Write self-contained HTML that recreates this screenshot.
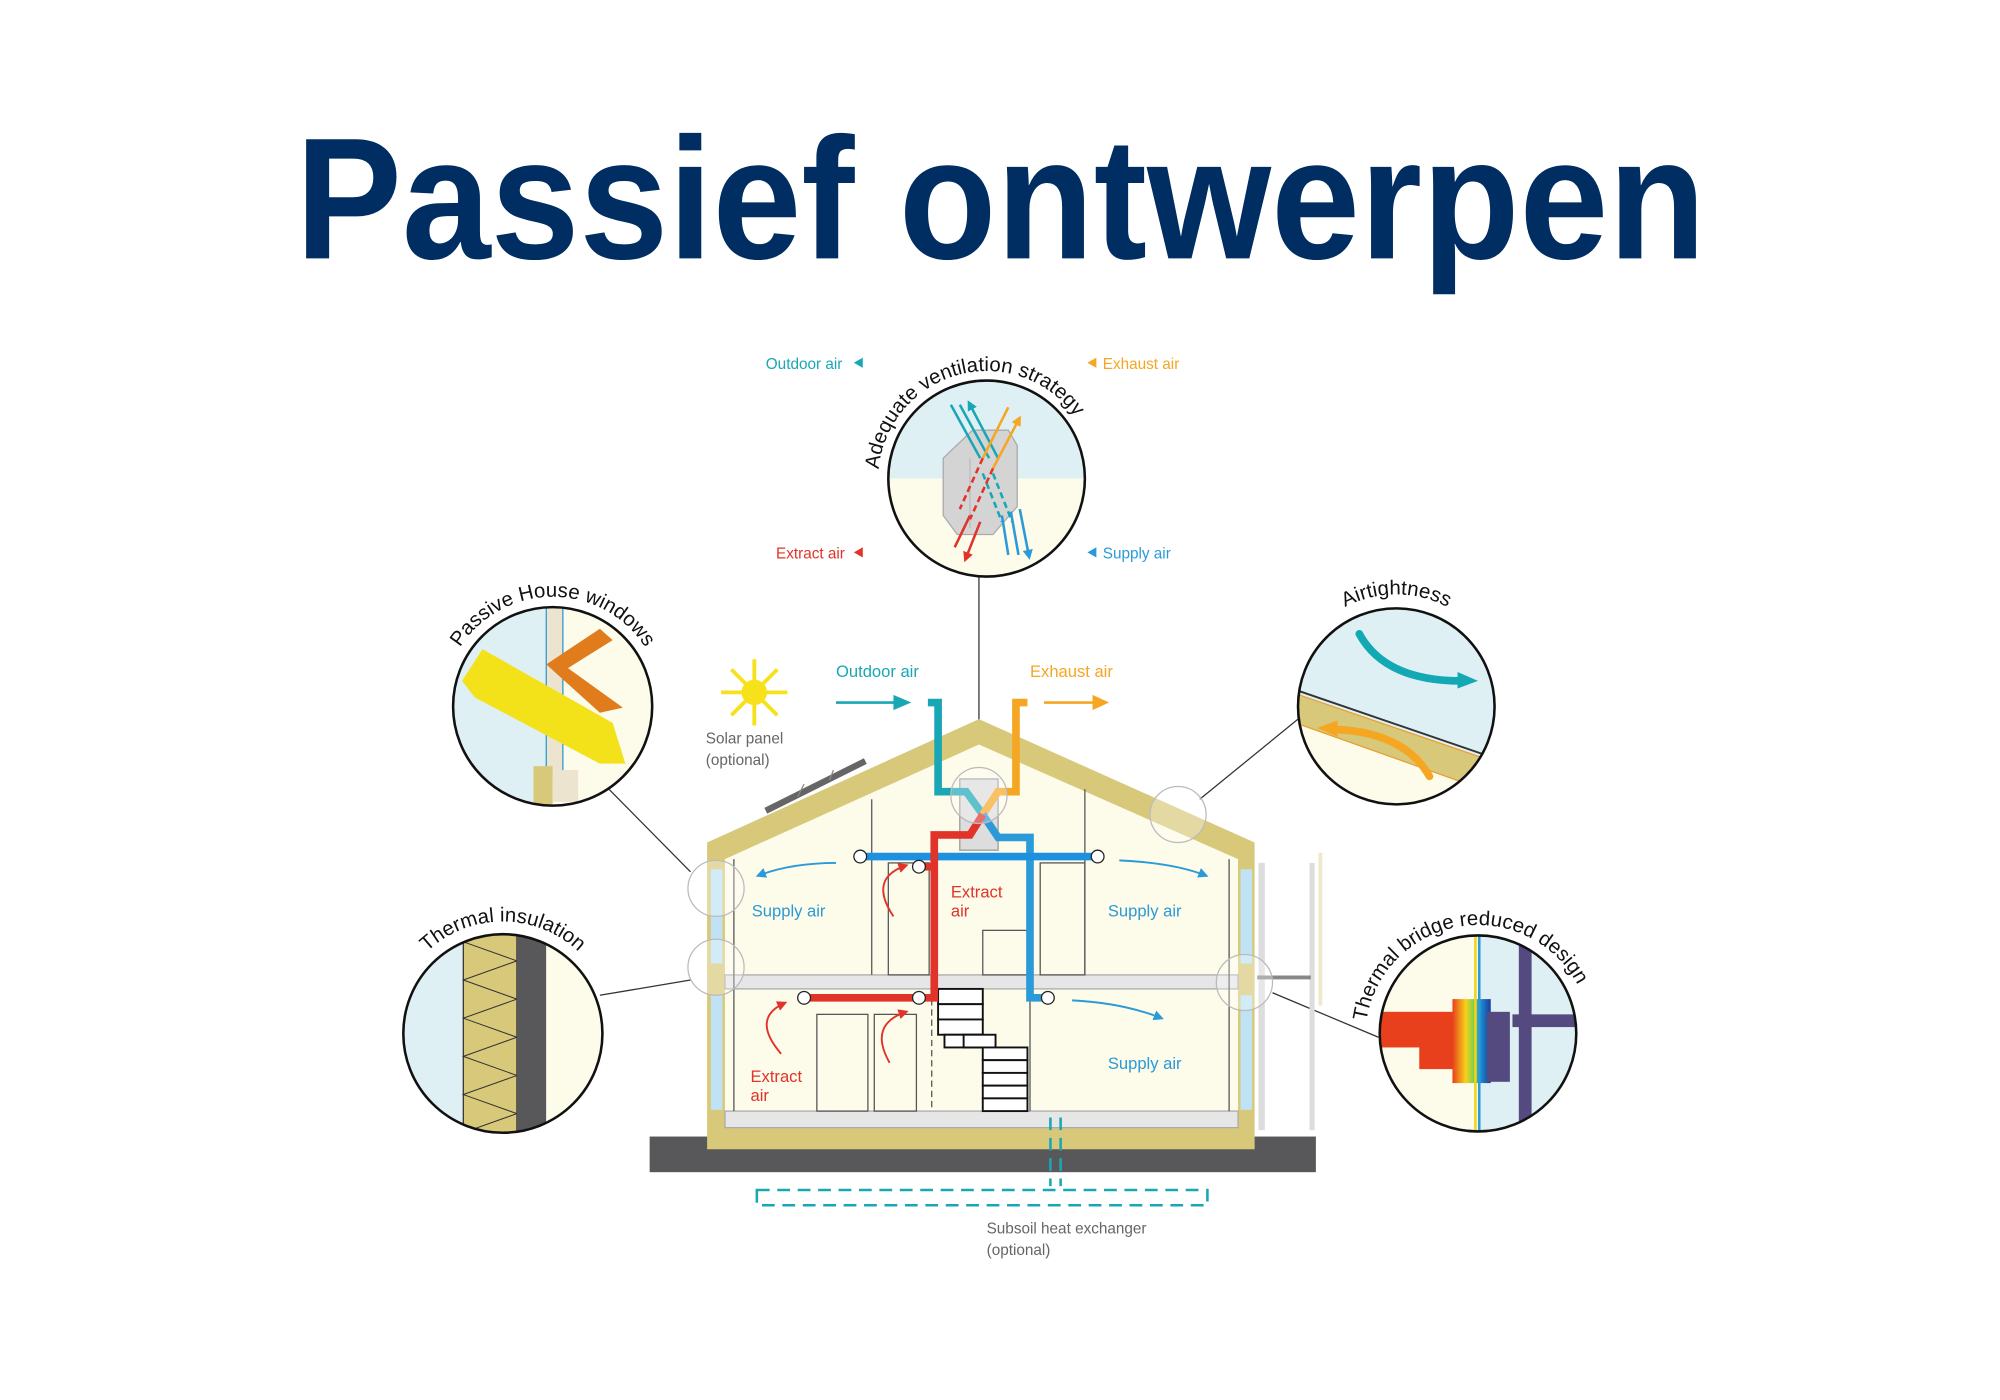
<!DOCTYPE html>
<html><head><meta charset="utf-8"><style>
html,body{margin:0;padding:0;background:#fff;}
svg{display:block;}
text{font-family:"Liberation Sans",sans-serif;}
</style></head><body>
<svg width="2000" height="1400" viewBox="0 0 1567 1100" preserveAspectRatio="none" xmlns="http://www.w3.org/2000/svg">
<defs>
<clipPath id="cv"><circle cx="773" cy="376" r="77"/></clipPath>
<clipPath id="cw"><circle cx="433" cy="555" r="78"/></clipPath>
<clipPath id="ci"><circle cx="394" cy="812" r="78"/></clipPath>
<clipPath id="ca"><circle cx="1094" cy="555" r="77"/></clipPath>
<clipPath id="ct"><circle cx="1158" cy="812" r="77"/></clipPath>
<linearGradient id="tg" x1="0" x2="1" y1="0" y2="0">
<stop offset="0" stop-color="#e8401c"/><stop offset="0.35" stop-color="#f8d21a"/><stop offset="0.55" stop-color="#7fd04a"/><stop offset="0.7" stop-color="#1c9ad8"/><stop offset="1" stop-color="#1a3b9a"/></linearGradient>
<path id="pv" d="M693,405 A85,85 0 1 1 856.7,361.2" fill="none"/>
<path id="pw" d="M348.3,540 A86,86 0 0 1 517.7,540" fill="none"/>
<path id="pi" d="M309,797 A86,86 0 0 1 479,797" fill="none"/>
<path id="pa" d="M1009,540 A86,86 0 0 1 1179,540" fill="none"/>
<path id="pt" d="M1071,830 A88,88 0 0 1 1245,800" fill="none"/>
<marker id="ab" markerWidth="8" markerHeight="8" refX="6" refY="4" orient="auto" markerUnits="userSpaceOnUse"><path d="M0,0 L8,4 L0,8z" fill="#2a9ad8"/></marker>
<marker id="ar" markerWidth="8" markerHeight="8" refX="6" refY="4" orient="auto" markerUnits="userSpaceOnUse"><path d="M0,0 L8,4 L0,8z" fill="#e0332a"/></marker>
<marker id="mc" markerWidth="8" markerHeight="8" refX="4" refY="4" orient="auto" markerUnits="userSpaceOnUse"><path d="M0,0 L8,4 L0,8z" fill="#1aa7b5"/></marker>
<marker id="mo" markerWidth="8" markerHeight="8" refX="4" refY="4" orient="auto" markerUnits="userSpaceOnUse"><path d="M0,0 L8,4 L0,8z" fill="#f5a623"/></marker>
<marker id="mb" markerWidth="8" markerHeight="8" refX="4" refY="4" orient="auto" markerUnits="userSpaceOnUse"><path d="M0,0 L8,4 L0,8z" fill="#2a9ad8"/></marker>
<marker id="mr" markerWidth="8" markerHeight="8" refX="4" refY="4" orient="auto" markerUnits="userSpaceOnUse"><path d="M0,0 L8,4 L0,8z" fill="#e0332a"/></marker>
</defs>

<text x="784" y="203" font-size="136" font-weight="bold" fill="#002d62" text-anchor="middle" textLength="1105" lengthAdjust="spacingAndGlyphs">Passief ontwerpen</text>

<g stroke="#333" stroke-width="1">
<line x1="767" y1="453" x2="767" y2="567"/>
<line x1="477" y1="620" x2="541" y2="685"/>
<line x1="470" y1="782" x2="541" y2="770"/>
<line x1="1017" y1="565" x2="940" y2="628"/>
<line x1="1080" y1="815" x2="997" y2="780"/>
</g>

<rect x="509" y="893" width="522" height="28" fill="#58585a"/>
<rect x="986" y="678" width="5" height="210" fill="#ddd"/>
<rect x="1026" y="678" width="4" height="210" fill="#ddd"/>
<rect x="1033" y="670" width="3" height="120" fill="#eee9c8"/>
<line x1="985" y1="768" x2="1027" y2="768" stroke="#888" stroke-width="3"/>
<polygon points="568,675 767,585 970,675 970,886 568,886" fill="#fdfbe9"/>
<polygon points="554,662 767,565 983,662 983,903 554,903 554,662 568,675 568,886 970,886 970,675 767,585 568,675" fill="#d8c97a" fill-rule="evenodd"/>
<rect x="557" y="683" width="9" height="74" fill="#bfe3f5"/>
<rect x="557" y="782" width="9" height="90" fill="#bfe3f5"/>
<rect x="972" y="683" width="9" height="74" fill="#bfe3f5"/>
<rect x="972" y="782" width="9" height="90" fill="#bfe3f5"/>
<rect x="568" y="766" width="402" height="11" fill="#e6e6e6" stroke="#aaa" stroke-width="1"/>
<rect x="568" y="873" width="402" height="13" fill="#e6e6e6" stroke="#aaa" stroke-width="1"/>
<g stroke="#555" stroke-width="1" fill="none">
<line x1="683" y1="628" x2="683" y2="766"/>
<line x1="850" y1="620" x2="850" y2="766"/>
<line x1="575" y1="675" x2="575" y2="873"/>
<line x1="963" y1="675" x2="963" y2="873"/>
<rect x="696" y="678" width="32" height="88"/>
<rect x="815" y="678" width="35" height="88"/>
<rect x="770" y="731" width="35" height="35"/>
<rect x="640" y="797" width="40" height="76"/>
<rect x="685" y="797" width="33" height="76"/>
<line x1="807" y1="777" x2="807" y2="873"/>
<line x1="730" y1="777" x2="730" y2="873" stroke-dasharray="5,3"/>
</g>
<g stroke="#111" stroke-width="1.5" fill="#fff">
<rect x="735" y="777" width="35" height="12"/><rect x="735" y="789" width="35" height="12"/><rect x="735" y="801" width="35" height="12"/><rect x="740" y="813" width="30" height="10"/><rect x="755" y="813" width="25" height="10"/>
<rect x="770" y="823" width="35" height="10"/><rect x="770" y="833" width="35" height="10"/><rect x="770" y="843" width="35" height="10"/><rect x="770" y="853" width="35" height="10"/><rect x="770" y="863" width="35" height="10"/>
</g>
<line x1="600" y1="637" x2="678" y2="598" stroke="#666" stroke-width="5"/>
<path d="M625,626 l5,-10 M650,613 l3,-8" stroke="#888" stroke-width="1"/>
<g stroke="#f7e11b" stroke-width="3"><line x1="591" y1="518" x2="591" y2="570"/><line x1="565" y1="544" x2="617" y2="544"/><line x1="573" y1="526" x2="609" y2="562"/><line x1="609" y1="526" x2="573" y2="562"/></g>
<circle cx="591" cy="544" r="10" fill="#f7e11b"/>
<text x="553" y="584" font-size="12" fill="#666">Solar panel</text>
<text x="553" y="601" font-size="12" fill="#666">(optional)</text>

<text x="655" y="532" font-size="13" fill="#1aa7b5">Outdoor air</text>
<line x1="655" y1="552" x2="702" y2="552" stroke="#1aa7b5" stroke-width="2"/><polygon points="700,546 714,552 700,558" fill="#1aa7b5"/>
<text x="807" y="532" font-size="13" fill="#f5a623">Exhaust air</text>
<line x1="818" y1="552" x2="858" y2="552" stroke="#f5a623" stroke-width="2"/><polygon points="856,546 869,552 856,558" fill="#f5a623"/>

<rect x="752" y="612" width="30" height="56" fill="#ddd" stroke="#999"/>
<g fill="none" stroke-width="6" stroke-linejoin="miter">
<polyline points="727,552 735,552 735,622 757,622 770,640" stroke="#1aa7b5"/>
<polyline points="805,552 796,552 796,622 782,622 770,640" stroke="#f5a623"/>
<polyline points="770,640 782,658 807,658 807,784 818,784" stroke="#2a9ad8"/>
<line x1="674" y1="673" x2="860" y2="673" stroke="#1e90e0"/>
<polyline points="770,640 760,656 732,656 732,784 630,784" stroke="#e0332a"/>
<line x1="720" y1="681" x2="732" y2="681" stroke="#e0332a"/>
</g>
<g fill="#fff" stroke="#222" stroke-width="1">
<circle cx="674" cy="673" r="5"/><circle cx="860" cy="673" r="5"/><circle cx="720" cy="681" r="5"/><circle cx="630" cy="784" r="5"/><circle cx="720" cy="784" r="5"/><circle cx="821" cy="784" r="5"/>
</g>
<g fill="none" stroke-width="1.5">
<path d="M655,678 Q620,678 594,688" stroke="#2a9ad8" marker-end="url(#ab)"/>
<path d="M877,676 Q920,678 945,688" stroke="#2a9ad8" marker-end="url(#ab)"/>
<path d="M840,786 Q880,788 910,800" stroke="#2a9ad8" marker-end="url(#ab)"/>
<path d="M700,720 Q680,690 710,680" stroke="#e0332a" marker-end="url(#ar)"/>
<path d="M612,828 Q588,800 615,788" stroke="#e0332a" marker-end="url(#ar)"/>
<path d="M697,835 Q680,805 710,795" stroke="#e0332a" marker-end="url(#ar)"/>
</g>
<text x="589" y="720" font-size="13" fill="#2a9ad8">Supply air</text>
<text x="868" y="720" font-size="13" fill="#2a9ad8">Supply air</text>
<text x="868" y="840" font-size="13" fill="#2a9ad8">Supply air</text>
<text x="745" y="705" font-size="13" fill="#e0332a">Extract</text>
<text x="745" y="720" font-size="13" fill="#e0332a">air</text>
<text x="588" y="850" font-size="13" fill="#e0332a">Extract</text>
<text x="588" y="865" font-size="13" fill="#e0332a">air</text>

<rect x="593" y="935" width="353" height="12" fill="none" stroke="#1aa7b5" stroke-width="2" stroke-dasharray="10,6"/>
<g stroke="#1aa7b5" stroke-width="2" stroke-dasharray="10,6"><line x1="823" y1="878" x2="823" y2="932"/><line x1="831" y1="878" x2="831" y2="932"/></g>
<text x="773" y="969" font-size="12" fill="#666">Subsoil heat exchanger</text>
<text x="773" y="986" font-size="12" fill="#666">(optional)</text>

<g fill="rgba(255,255,255,0.3)" stroke="#bbb" stroke-width="1">
<circle cx="561" cy="698" r="22"/><circle cx="561" cy="760" r="22"/><circle cx="923" cy="640" r="22"/><circle cx="975" cy="772" r="22"/><circle cx="767" cy="625" r="22"/>
</g>

<g clip-path="url(#cv)">
<rect x="690" y="295" width="170" height="81" fill="#dff0f5"/>
<rect x="690" y="376" width="170" height="90" fill="#fdfbe9"/>
<polygon points="739,360 762,338 790,338 797,350 797,398 778,420 750,420 739,405" fill="#d4d4d4" stroke="#aaa"/>
<line x1="760" y1="360" x2="760" y2="415" stroke="#bbb"/>
<g stroke-width="2" fill="none">
<path d="M768,360 L745,318 M775,360 L752,318 M782,360 L760,318" stroke="#1aa7b5" marker-end="url(#mc)"/>
<path d="M770,372 L785,410 M778,372 L793,410" stroke="#1aa7b5" stroke-dasharray="5,3"/>
<path d="M770,360 L790,320 M778,368 L798,330" stroke="#f5a623" marker-end="url(#mo)"/>
<path d="M770,360 L752,400 M778,368 L760,408" stroke="#e0332a" stroke-dasharray="5,3"/>
<path d="M760,405 L748,430 M768,410 L757,438" stroke="#e0332a" marker-end="url(#mr)"/>
<path d="M785,405 L790,436 M792,402 L798,436 M799,400 L806,436" stroke="#2a9ad8" marker-end="url(#mb)"/>
</g>
</g>
<circle cx="773" cy="376" r="77" fill="none" stroke="#111" stroke-width="2"/>
<text font-size="16" fill="#111"><textPath href="#pv" startOffset="50%" text-anchor="middle">Adequate ventilation strategy</textPath></text>
<text x="600" y="290" font-size="12" fill="#1aa7b5">Outdoor air</text><polygon points="669,285 676,281 676,289" fill="#1aa7b5"/>
<polygon points="852,285 859,281 859,289" fill="#f5a623"/><text x="864" y="290" font-size="12" fill="#f5a623">Exhaust air</text>
<text x="608" y="439" font-size="12" fill="#e0332a">Extract air</text><polygon points="669,434 676,430 676,438" fill="#e0332a"/>
<polygon points="852,434 859,430 859,438" fill="#2a9ad8"/><text x="864" y="439" font-size="12" fill="#2a9ad8">Supply air</text>

<g clip-path="url(#cw)">
<rect x="350" y="475" width="83" height="165" fill="#dff0f5"/>
<rect x="433" y="475" width="90" height="165" fill="#fdfbe9"/>
<rect x="428" y="475" width="13" height="135" fill="#ede4cf" stroke="#2a9ad8" stroke-width="1"/>
<polygon points="362,535 378,510 480,568 490,600 470,600 372,548" fill="#f3e21a"/>
<polygon points="428,522 470,494 480,503 445,525 488,556 470,560" fill="#e07c1c"/>
<rect x="418" y="602" width="15" height="30" fill="#d8c97a"/>
<rect x="433" y="605" width="20" height="25" fill="#ede4cf"/>
</g>
<circle cx="433" cy="555" r="78" fill="none" stroke="#111" stroke-width="2"/>
<text font-size="16" fill="#111"><textPath href="#pw" startOffset="50%" text-anchor="middle">Passive House windows</textPath></text>

<g clip-path="url(#ci)">
<rect x="314" y="732" width="49" height="162" fill="#dff0f5"/>
<rect x="363" y="732" width="42" height="162" fill="#d8c97a" stroke="#333"/>
<polyline points="363,740 405,755 363,770 405,785 363,800 405,815 363,830 405,845 363,860 405,875 363,890" fill="none" stroke="#333" stroke-width="0.8"/>
<rect x="405" y="732" width="23" height="162" fill="#58585a"/>
<rect x="428" y="732" width="48" height="162" fill="#fdfbe9"/>
</g>
<circle cx="394" cy="812" r="78" fill="none" stroke="#111" stroke-width="2"/>
<text font-size="16" fill="#111"><textPath href="#pi" startOffset="50%" text-anchor="middle">Thermal insulation</textPath></text>

<g clip-path="url(#ca)">
<rect x="1015" y="476" width="160" height="160" fill="#dff0f5"/>
<polygon points="1015,545 1175,620 1175,640 1015,640" fill="#fdfbe9"/>
<polygon points="1015,545 1175,600 1175,625 1015,568" fill="#d8c97a" stroke="#e8a030" stroke-width="1"/>
<line x1="1015" y1="542" x2="1175" y2="597" stroke="#333" stroke-width="1.5"/>
</g>
<path d="M1065,498 Q1085,535 1145,535" fill="none" stroke="#12a9b5" stroke-width="6" stroke-linecap="round"/>
<polygon points="1142,528 1158,535 1142,541" fill="#12a9b5"/>
<path d="M1120,610 Q1100,575 1045,573" fill="none" stroke="#f5a623" stroke-width="6" stroke-linecap="round"/>
<polygon points="1048,566 1032,572 1048,579" fill="#f5a623"/>
<circle cx="1094" cy="555" r="77" fill="none" stroke="#111" stroke-width="2"/>
<text font-size="16" fill="#111"><textPath href="#pa" startOffset="50%" text-anchor="middle">Airtightness</textPath></text>

<g clip-path="url(#ct)">
<rect x="1080" y="734" width="78" height="160" fill="#fdfbe9"/>
<rect x="1158" y="734" width="80" height="160" fill="#dff0f5"/>
<rect x="1080" y="795" width="60" height="28" fill="#e8401c"/>
<rect x="1112" y="820" width="30" height="20" fill="#e8401c"/>
<rect x="1138" y="785" width="30" height="66" fill="url(#tg)"/>
<rect x="1165" y="795" width="18" height="55" fill="#544a80"/>
<rect x="1190" y="734" width="10" height="160" fill="#544a80"/>
<rect x="1185" y="797" width="55" height="10" fill="#544a80"/>
<line x1="1156" y1="734" x2="1156" y2="894" stroke="#f3d21a" stroke-width="2"/>
<line x1="1159" y1="734" x2="1159" y2="894" stroke="#2a9ad8" stroke-width="2"/>
</g>
<circle cx="1158" cy="812" r="77" fill="none" stroke="#111" stroke-width="2"/>
<text font-size="16" fill="#111"><textPath href="#pt" startOffset="50%" text-anchor="middle">Thermal bridge reduced design</textPath></text>
</svg>
</body></html>
